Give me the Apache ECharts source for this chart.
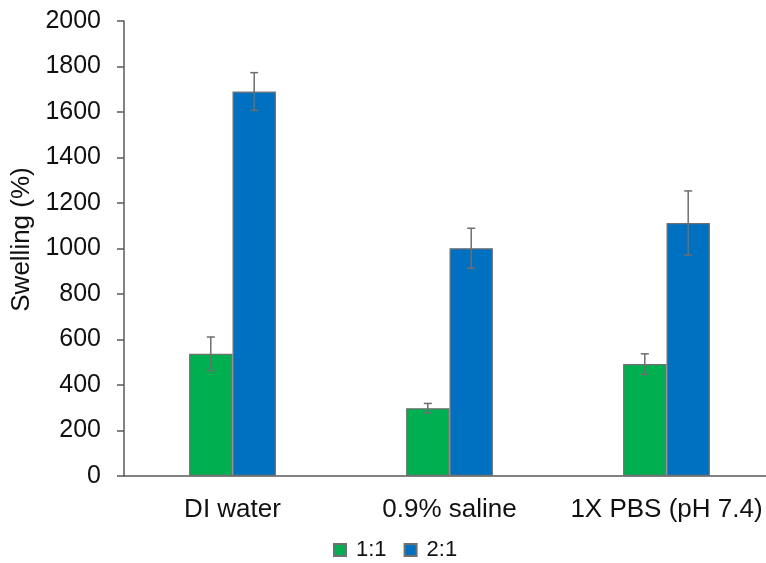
<!DOCTYPE html>
<html>
<head>
<meta charset="utf-8">
<script src="https://cdn.jsdelivr.net/npm/echarts@6/dist/echarts.min.js"></script>
<style>html,body{margin:0;padding:0;background:#fff;}#c{width:766px;height:563px;}</style>
</head>
<body>
<div id="c"></div>
<script>
const categories = ['DI water', '0.9% saline', '1X PBS (pH 7.4)'];
const seriesNames = ['1:1', '2:1'];
const values11 = [537, 298, 492];
const values21 = [1690, 1001, 1112];
const err11 = [74, 21, 45];
const err21 = [83, 88, 141];
const yTicks = [0, 200, 400, 600, 800, 1000, 1200, 1400, 1600, 1800, 2000];

const FONT = 'Liberation Sans, Arial, sans-serif';
const BAR_FRAC = 0.2;

function errSeries(vals, errs, sign) {
  return {
    type: 'custom',
    silent: true,
    z: 10,
    data: vals.map((v, i) => [i, v, errs[i]]),
    renderItem: function (params, api) {
      const i = api.value(0), v = api.value(1), e = api.value(2);
      const band = api.size([1, 0])[0];
      const off = sign * band * BAR_FRAC / 2;
      const top = api.coord([i, v + e]);
      const bot = api.coord([i, v - e]);
      const x = top[0] + off;
      const cap = 4;
      const style = { stroke: '#6e6e6e', lineWidth: 1.5 };
      return {
        type: 'group',
        children: [
          { type: 'line', shape: { x1: x, y1: top[1], x2: x, y2: bot[1] }, style: style },
          { type: 'line', shape: { x1: x - cap, y1: top[1], x2: x + cap, y2: top[1] }, style: style },
          { type: 'line', shape: { x1: x - cap, y1: bot[1], x2: x + cap, y2: bot[1] }, style: style }
        ]
      };
    }
  };
}

const chart = echarts.init(document.getElementById('c'), null, { renderer: 'canvas' });
chart.setOption({
  animation: false,
  textStyle: { fontFamily: FONT },
  grid: { left: 124, top: 21, height: 455, width: 651, containLabel: false, outerBoundsMode: 'none' },
  legend: {
    data: seriesNames,
    top: 534,
    left: 328,
    icon: 'rect',
    itemWidth: 12,
    itemHeight: 12,
    itemGap: 17,
    textStyle: { fontSize: 22, color: '#111', fontFamily: FONT, padding: [0, 0, 0, 5] }
  },
  xAxis: {
    type: 'category',
    data: categories,
    axisLine: { lineStyle: { color: '#595959', width: 1.5 } },
    axisTick: { show: false },
    axisLabel: { fontSize: 26, color: '#111', margin: 21, interval: 0, fontFamily: FONT, hideOverlap: false }
  },
  yAxis: {
    type: 'value',
    min: yTicks[0],
    max: yTicks[yTicks.length - 1],
    interval: yTicks[1] - yTicks[0],
    name: 'Swelling (%)',
    nameLocation: 'middle',
    nameGap: 81,
    nameRotate: 90,
    nameTextStyle: { fontSize: 26, color: '#111', fontFamily: FONT, padding: [0, 0, 0, 18] },
    axisLine: { show: true, lineStyle: { color: '#595959', width: 1.5 } },
    axisTick: { show: true, length: 7, lineStyle: { color: '#595959', width: 1.5 } },
    splitLine: { show: false },
    axisLabel: { fontSize: 25, color: '#111', margin: 23, fontFamily: FONT, formatter: function (v) { return String(v); } }
  },
  series: [
    {
      name: seriesNames[0], type: 'bar', data: values11,
      barWidth: (BAR_FRAC * 100) + '%', barGap: '0%',
      itemStyle: { color: '#00B050', borderColor: '#707070', borderWidth: 1.2 }
    },
    {
      name: seriesNames[1], type: 'bar', data: values21,
      barWidth: (BAR_FRAC * 100) + '%', barGap: '0%',
      itemStyle: { color: '#0070C0', borderColor: '#707070', borderWidth: 1.2 }
    },
    errSeries(values11, err11, -1),
    errSeries(values21, err21, 1)
  ]
});
</script>
</body>
</html>
